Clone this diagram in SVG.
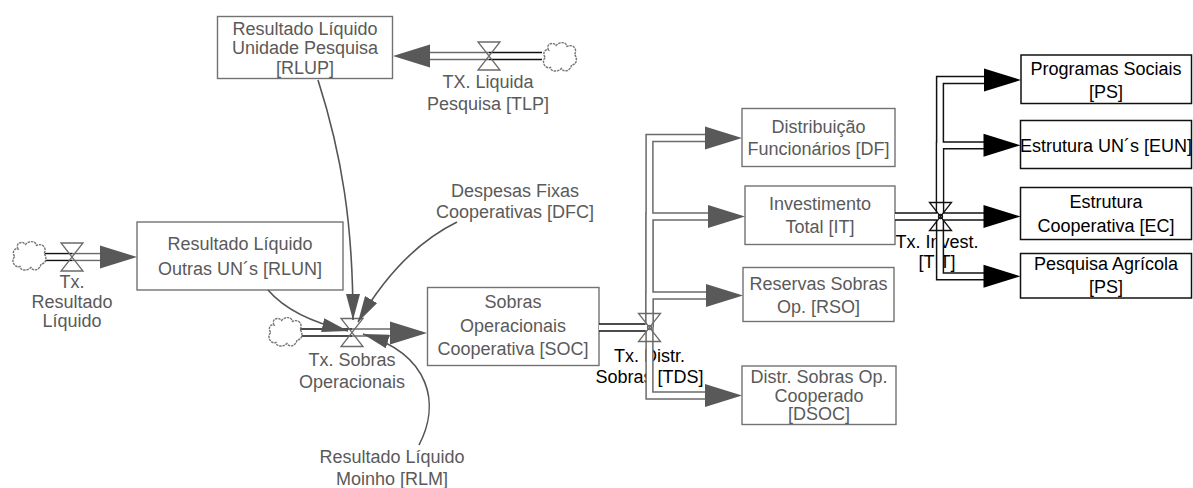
<svg xmlns="http://www.w3.org/2000/svg" xmlns:xlink="http://www.w3.org/1999/xlink" width="1193" height="488" viewBox="0 0 1193 488">
<defs>
<style>
text{font-family:"Liberation Sans",Arial,sans-serif;font-size:18px;text-anchor:middle}
.g{fill:#5a5a5a}
.k{fill:#000}
.gb{fill:#fff;stroke:#727272;stroke-width:1.4}
.kb{fill:#fff;stroke:#111;stroke-width:1.5}
.po{fill:none;stroke-width:8.3}
.pi{fill:none;stroke:#fff;stroke-width:5.3}
.pg{stroke:#6a6a6a}
.pk{stroke:#111}
.ahg{fill:#595959}
.ahk{fill:#000}
.vg{fill:none;stroke:#6a6a6a;stroke-width:1.3}
.vk{fill:none;stroke:#111;stroke-width:1.3}
.cloud{fill:#fff;stroke:#777;stroke-width:1.4;stroke-dasharray:2.5 0.8}
.link{fill:none;stroke:#555;stroke-width:1.6}
</style>
<path id="ah" d="M0 0 L-37 -11.5 L-37 11.5 Z"/>
<path id="valve" d="M-11 -14 H11 L-11 14 H11 Z"/>
<path id="cloud" d="M-11 -7.5 C-14 -14 -6.5 -16 -3.5 -12 C0 -16 6.5 -16 7.5 -11 C13 -14 18.5 -8.5 15 -3 C18.5 1 17 7.5 12 7.5 C11 14 4 15 2 11 C-2 15 -9 14 -9 10 C-15 12 -18.5 3 -14 0 C-17.5 -3 -15 -9 -11 -7.5 Z"/>
<marker id="arr" markerUnits="userSpaceOnUse" viewBox="0 0 28 14" markerWidth="28" markerHeight="14" refX="26" refY="7" orient="auto">
<path d="M0 0 L26 7 L0 14 Z" fill="#555"/>
</marker>
</defs>
<rect width="1193" height="488" fill="#fff"/>

<g id="rlup"><rect class="gb" x="217.5" y="16.5" width="175" height="62"/>
<text class="g" x="305" y="34.5">Resultado Líquido</text><text class="g" x="305" y="54">Unidade Pesquisa</text><text class="g" x="305" y="73.5">[RLUP]</text></g>
<g id="rlun"><rect class="gb" x="137" y="222" width="206" height="68"/>
<text class="g" x="240" y="249.5">Resultado Líquido</text><text class="g" x="240" y="274.5">Outras UN´s [RLUN]</text></g>
<g id="soc"><rect class="gb" x="427.5" y="287.5" width="171.5" height="78"/>
<text class="g" x="513" y="308">Sobras</text><text class="g" x="513" y="331.5">Operacionais</text><text class="g" x="513" y="354.5">Cooperativa [SOC]</text></g>
<g id="df"><rect class="gb" x="742" y="108.5" width="153" height="58"/>
<text class="g" x="818.5" y="133">Distribuição</text><text class="g" x="818.5" y="154.5">Funcionários [DF]</text></g>
<g id="it"><rect class="gb" x="745" y="186" width="150" height="58.5"/>
<text class="g" x="820" y="209.5">Investimento</text><text class="g" x="820" y="233">Total [IT]</text></g>
<g id="rso"><rect class="gb" x="743" y="267.5" width="151" height="54"/>
<text class="g" x="818.5" y="289.5">Reservas Sobras</text><text class="g" x="818.5" y="313">Op. [RSO]</text></g>
<g id="dsoc"><rect class="gb" x="742" y="366" width="154" height="58.5"/>
<text class="g" x="819" y="383">Distr. Sobras Op.</text><text class="g" x="819" y="401.5">Cooperado</text><text class="g" x="819" y="419.5">[DSOC]</text></g>
<g id="ps"><rect class="kb" x="1021" y="55" width="170.5" height="48.5"/>
<text class="k" x="1106" y="74.5">Programas Sociais</text><text class="k" x="1106" y="98">[PS]</text></g>
<g id="eun"><rect class="kb" x="1020.5" y="120.5" width="171" height="48"/>
<text class="k" x="1106" y="151.5">Estrutura UN´s [EUN]</text></g>
<g id="ec"><rect class="kb" x="1020.5" y="187.5" width="171" height="52"/>
<text class="k" x="1106" y="208">Estrutura</text><text class="k" x="1106" y="231.5">Cooperativa [EC]</text></g>
<g id="pa"><rect class="kb" x="1020.5" y="253.5" width="171" height="44.5"/>
<text class="k" x="1106" y="269.5">Pesquisa Agrícola</text><text class="k" x="1106" y="293">[PS]</text></g>

<g id="tlp"><text class="g" x="488" y="88">TX. Liquida</text><text class="g" x="488" y="109.5">Pesquisa [TLP]</text></g>
<g id="txres"><text class="g" x="72" y="288">Tx.</text><text class="g" x="72" y="307.5">Resultado</text><text class="g" x="72" y="326.5">Líquido</text></g>
<g id="txsob"><text class="g" x="352" y="365.5">Tx. Sobras</text><text class="g" x="352" y="388">Operacionais</text></g>
<g id="dfc"><text class="g" x="515" y="196.5">Despesas Fixas</text><text class="g" x="515" y="218">Cooperativas [DFC]</text></g>
<g id="rlm"><text class="g" x="392" y="463">Resultado Líquido</text><text class="g" x="392" y="484.5">Moinho [RLM]</text></g>
<g id="tds"><text class="k" x="649.5" y="361.5">Tx. Distr.</text><text class="k" x="649.5" y="383">Sobras [TDS]</text></g>
<g id="tit"><text class="k" x="937" y="247.5">Tx. Invest.</text><text class="k" x="937" y="268">[TIT]</text></g>

<g id="connectors">
<g class="po pk">
<path d="M542 56 H489"/><path d="M45 257 H72"/><path d="M300 332.5 H352"/><path d="M599 327.5 H649.5"/><path d="M895 216.5 H940"/>
<path d="M940 216.5 V80 H988"/><path d="M940 216.5 V145.3 H988"/><path d="M940 216.5 H988"/><path d="M940 216.5 V276.3 H988"/>
</g>
<g class="po pg">
<path d="M489 56 H426"/><path d="M72 257 H103"/><path d="M352 332.5 H392"/>
<path d="M649.5 327.5 V138 H708"/><path d="M649.5 327.5 V216.5 H711"/><path d="M649.5 327.5 V295.5 H709"/><path d="M649.5 327.5 V395.5 H708"/>
</g>
<g class="pi">
<path d="M542 56 H426"/><path d="M45 257 H103"/><path d="M300 332.5 H392"/><path d="M599 327.5 H649.5"/><path d="M895 216.5 H940"/>
<path d="M940 216.5 V80 H988"/><path d="M940 216.5 V145.3 H988"/><path d="M940 216.5 H988"/><path d="M940 216.5 V276.3 H988"/>
<path d="M649.5 327.5 V138 H708"/><path d="M649.5 327.5 V216.5 H711"/><path d="M649.5 327.5 V295.5 H709"/><path d="M649.5 327.5 V395.5 H708"/>
</g>
<use xlink:href="#ah" href="#ah" class="ahg" transform="translate(393 56) rotate(180)"/>
<use xlink:href="#ah" href="#ah" class="ahg" x="137" y="257"/>
<use xlink:href="#ah" href="#ah" class="ahg" x="427" y="333"/>
<use xlink:href="#ah" href="#ah" class="ahg" x="742" y="138"/>
<use xlink:href="#ah" href="#ah" class="ahg" x="745" y="216.5"/>
<use xlink:href="#ah" href="#ah" class="ahg" x="743" y="295.5"/>
<use xlink:href="#ah" href="#ah" class="ahg" x="742" y="395.5"/>
<use xlink:href="#ah" href="#ah" class="ahk" x="1021" y="80"/>
<use xlink:href="#ah" href="#ah" class="ahk" x="1020.5" y="145.3"/>
<use xlink:href="#ah" href="#ah" class="ahk" x="1020.5" y="216.5"/>
<use xlink:href="#ah" href="#ah" class="ahk" x="1020.5" y="276.3"/>
<use xlink:href="#valve" href="#valve" class="vg" x="489" y="56"/>
<use xlink:href="#valve" href="#valve" class="vg" x="72" y="257"/>
<use xlink:href="#valve" href="#valve" class="vg" x="352" y="332.5"/>
<use xlink:href="#valve" href="#valve" class="vg" x="649.5" y="327.5"/>
<circle cx="649.5" cy="327.5" r="2" class="vg"/>
<use xlink:href="#valve" href="#valve" class="vk" x="940.5" y="216.5"/>
<circle cx="940.5" cy="216.5" r="2" class="vk"/>
<use xlink:href="#cloud" href="#cloud" class="cloud" x="559.5" y="57.5"/>
<use xlink:href="#cloud" href="#cloud" class="cloud" x="29" y="256.5"/>
<use xlink:href="#cloud" href="#cloud" class="cloud" x="285" y="332.5"/>
<path class="link" marker-end="url(#arr)" d="M318 80 C342 155 353 225 353 320"/>
<path class="link" marker-end="url(#arr)" d="M457 222 Q400 250 358 322"/>
<path class="link" marker-end="url(#arr)" d="M268 290 Q292 318 348 331"/>
<path class="link" marker-end="url(#arr)" d="M419 445 C440 405 432 355 363 334"/>
</g>
</svg>
